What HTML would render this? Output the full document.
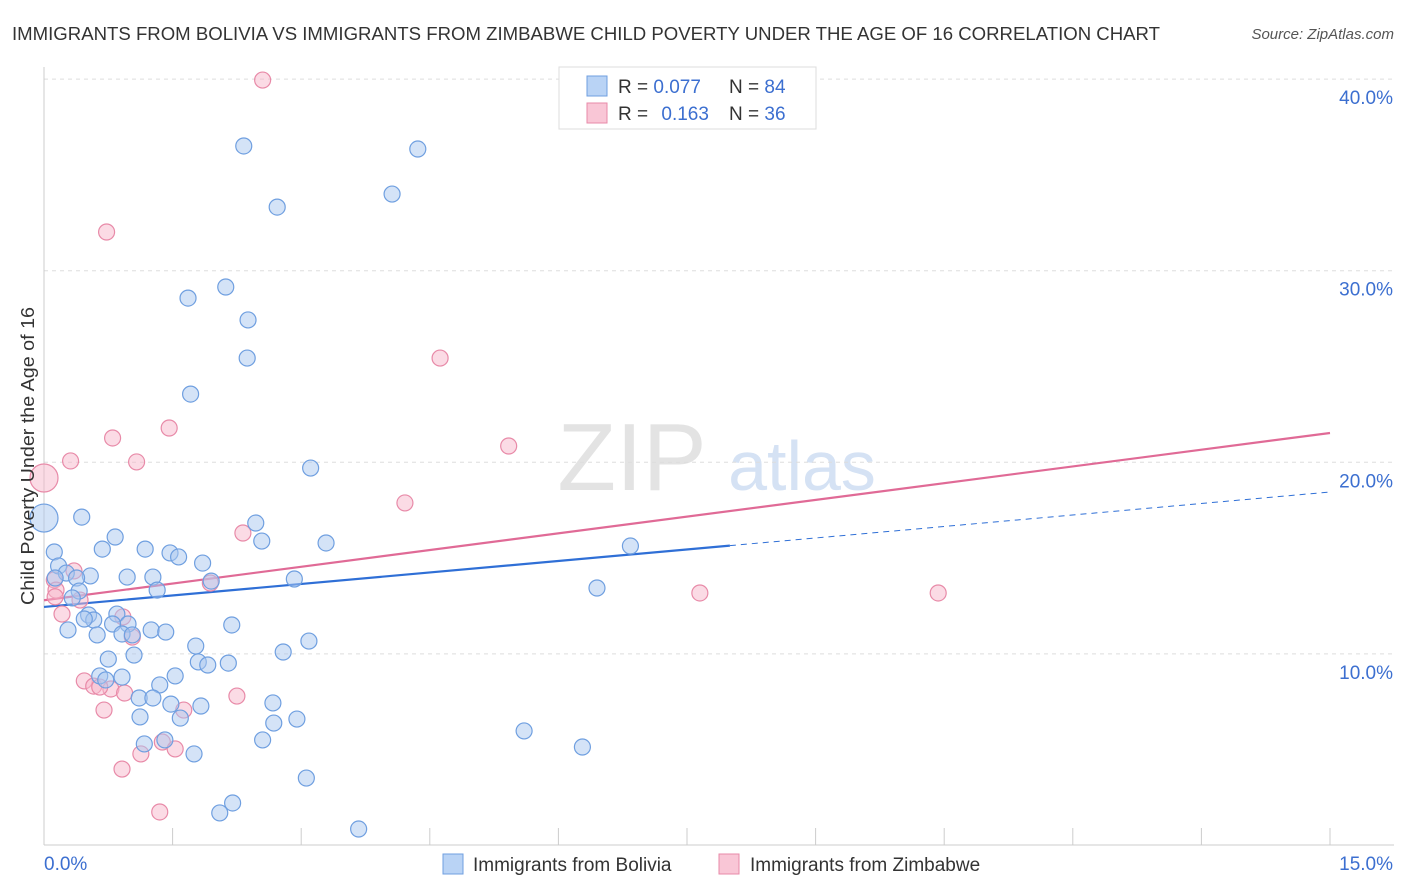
<!DOCTYPE html>
<html><head><meta charset="utf-8">
<style>
body{margin:0;background:#fff;font-family:"Liberation Sans",sans-serif;}
#wrap{position:relative;width:1406px;height:892px;overflow:hidden;}
svg text{font-family:"Liberation Sans",sans-serif;}
</style></head>
<body>
<div id="wrap">
<svg id="chart" width="1406" height="892">
<text x="12" y="40" font-size="18" fill="#333" textLength="1148" lengthAdjust="spacingAndGlyphs">IMMIGRANTS FROM BOLIVIA VS IMMIGRANTS FROM ZIMBABWE CHILD POVERTY UNDER THE AGE OF 16 CORRELATION CHART</text>
<text x="1394" y="39" font-size="15" fill="#555" font-style="italic" text-anchor="end">Source: ZipAtlas.com</text>
<g>
<text x="632" y="490" font-size="96" fill="#e3e3e3" font-family="Liberation Serif,serif" text-anchor="middle">ZIP</text>
<text x="802" y="490" font-size="70" fill="#d5e2f4" text-anchor="middle">atlas</text>
</g>
<g id="grid"></g>
<g id="axes"></g>
<g id="trends"></g>
<g id="pts"></g>
<g>
<rect x="559" y="67" width="257" height="62" fill="#fff" stroke="#ddd"/>
<rect x="587" y="76" width="20" height="20" fill="#b9d3f5" stroke="#6f9fe0"/>
<rect x="587" y="103" width="20" height="20" fill="#f9c6d6" stroke="#e88aa8"/>
<text x="618" y="93" font-size="19" fill="#333">R = <tspan fill="#3c6fd0">0.077</tspan></text>
<text x="729" y="93" font-size="19" fill="#333">N = <tspan fill="#3c6fd0">84</tspan></text>
<text x="618" y="120" font-size="19" fill="#333">R = <tspan fill="#3c6fd0" dx="8">0.163</tspan></text>
<text x="729" y="120" font-size="19" fill="#333">N = <tspan fill="#3c6fd0">36</tspan></text>
</g>
<g>
<rect x="443" y="854" width="20" height="20" fill="#b9d3f5" stroke="#6f9fe0"/>
<text x="473" y="871" font-size="19" fill="#333">Immigrants from Bolivia</text>
<rect x="719" y="854" width="20" height="20" fill="#f9c6d6" stroke="#e88aa8"/>
<text x="750" y="871" font-size="19" fill="#333">Immigrants from Zimbabwe</text>
</g>
<text transform="translate(34,456) rotate(-90)" font-size="18" fill="#333" text-anchor="middle" textLength="298" lengthAdjust="spacingAndGlyphs">Child Poverty Under the Age of 16</text>
</svg>
</div>
<script>
const boliviaX=[2.33,4.36,4.06,2.72,2.12,1.68,2.38,2.37,1.71,3.11,0.0,0.44,2.47,0.83,2.54,3.29,0.12,0.68,1.18,1.47,1.57,1.85,6.84,0.17,0.26,0.54,0.13,0.38,0.97,1.27,1.95,2.92,1.32,0.41,0.33,6.45,0.52,0.85,0.58,0.47,0.98,0.80,2.19,0.28,1.25,1.42,0.62,0.91,1.03,3.09,1.77,2.79,1.05,0.75,1.80,1.91,2.15,0.65,1.53,0.72,0.91,1.35,1.11,1.27,2.67,1.48,1.83,1.12,1.59,2.95,2.68,5.60,2.55,1.17,1.41,1.75,6.28,3.06,2.20,2.05,3.67];
const boliviaY=[36.51,36.35,34.00,33.32,29.15,28.57,27.43,25.44,23.56,19.70,17.09,17.14,16.83,16.10,15.89,15.79,15.32,15.47,15.47,15.27,15.06,14.74,15.63,14.59,14.22,14.07,13.96,13.96,14.01,14.01,13.80,13.91,13.33,13.28,12.92,13.44,12.03,12.08,11.77,11.82,11.56,11.56,11.51,11.25,11.25,11.14,10.99,11.04,10.99,10.67,10.41,10.10,9.94,9.73,9.58,9.42,9.52,8.85,8.85,8.64,8.79,8.38,7.70,7.70,7.44,7.38,7.28,6.71,6.65,6.60,6.39,5.98,5.51,5.30,5.51,4.78,5.14,3.52,2.22,1.70,0.86];
const zimX=[2.55,0.73,4.62,0.80,1.46,5.42,0.31,1.08,4.21,0.0,2.32,0.12,0.35,0.14,1.94,0.42,0.21,0.92,7.65,10.43,1.03,0.47,0.58,0.78,0.65,0.94,0.70,2.25,1.63,1.38,1.53,1.13,0.91,1.35,0.13];
const zimY=[39.95,32.02,25.44,21.27,21.79,20.85,20.07,20.02,17.88,19.18,16.31,13.86,14.33,13.33,13.70,12.81,12.08,11.93,13.18,13.18,10.88,8.59,8.32,8.17,8.27,7.96,7.07,7.80,7.07,5.40,5.04,4.78,3.99,1.75,12.98];
const bigIdxBolivia=[10], bigIdxZim=[9];
const yTicks=[10,20,30,40];
const yTickLabels=["10.0%","20.0%","30.0%","40.0%"];
const blueTrend=[12.45,18.45];
const blueSolidEnd=8.0;
const pinkTrend=[12.8,21.53];

const X0=44,X1=1330,Y0=845.5,PPY=19.16;
const sx=v=>X0+(v/15)*(X1-X0);
const sy=v=>Y0-v*PPY;
const NS="http://www.w3.org/2000/svg";
function mk(tag,attrs,parent){const e=document.createElementNS(NS,tag);for(const k in attrs)e.setAttribute(k,attrs[k]);parent.appendChild(e);return e;}
const grid=document.getElementById('grid'),axes=document.getElementById('axes'),trends=document.getElementById('trends'),pts=document.getElementById('pts');
yTicks.forEach((t,i)=>{
  const l=mk('line',{x1:X0,x2:1394,y1:sy(t),y2:sy(t),stroke:'#ddd','stroke-dasharray':'4,4'},grid);
  
  
  const tx=mk('text',{x:1393,y:sy(t)+25,'font-size':19,fill:'#3c6fd0','text-anchor':'end'},axes);
  tx.textContent=yTickLabels[i];
  
  
});
mk('line',{x1:X0,x2:X0,y1:67,y2:845,stroke:'#ccc'},axes);
mk('line',{x1:X0,x2:1394,y1:845,y2:845,stroke:'#ccc'},axes);
for(let i=0;i<=10;i++){
  const t=mk('line',{x1:sx(i*1.5),x2:sx(i*1.5),y1:828,y2:845,stroke:'#ccc'},axes);
  
  
}
const xl=mk('text',{x:44,y:870,'font-size':19,fill:'#3c6fd0'},axes);xl.textContent='0.0%';


const xr=mk('text',{x:1393,y:870,'font-size':19,fill:'#3c6fd0','text-anchor':'end'},axes);xr.textContent='15.0%';



const bAt=x=>blueTrend[0]+(blueTrend[1]-blueTrend[0])*x/15;
const pAt=x=>pinkTrend[0]+(pinkTrend[1]-pinkTrend[0])*x/15;
function dot(x,y,big,fill,stroke,name){
  const c=mk('circle',{cx:sx(x),cy:sy(y),r:big?14:8,fill:fill,'fill-opacity':0.5,stroke:stroke,'stroke-width':1.2},pts);
  
  
}
zimX.forEach((x,i)=>dot(x,zimY[i],bigIdxZim.includes(i),'#f7b8cc','#e88aa8','point-zimbabwe'));
boliviaX.forEach((x,i)=>dot(x,boliviaY[i],bigIdxBolivia.includes(i),'#a9c8f0','#6f9fe0','point-bolivia'));
let l1=mk('line',{x1:sx(0),y1:sy(bAt(0)),x2:sx(blueSolidEnd),y2:sy(bAt(blueSolidEnd)),stroke:'#2f6fd6','stroke-width':2.2},trends);


let l2=mk('line',{x1:sx(blueSolidEnd),y1:sy(bAt(blueSolidEnd)),x2:sx(15),y2:sy(bAt(15)),stroke:'#2f6fd6','stroke-width':1,'stroke-dasharray':'6,5'},trends);


let l3=mk('line',{x1:sx(0),y1:sy(pAt(0)),x2:sx(15),y2:sy(pAt(15)),stroke:'#e06a96','stroke-width':2.2},trends);


</script>
</body></html>
